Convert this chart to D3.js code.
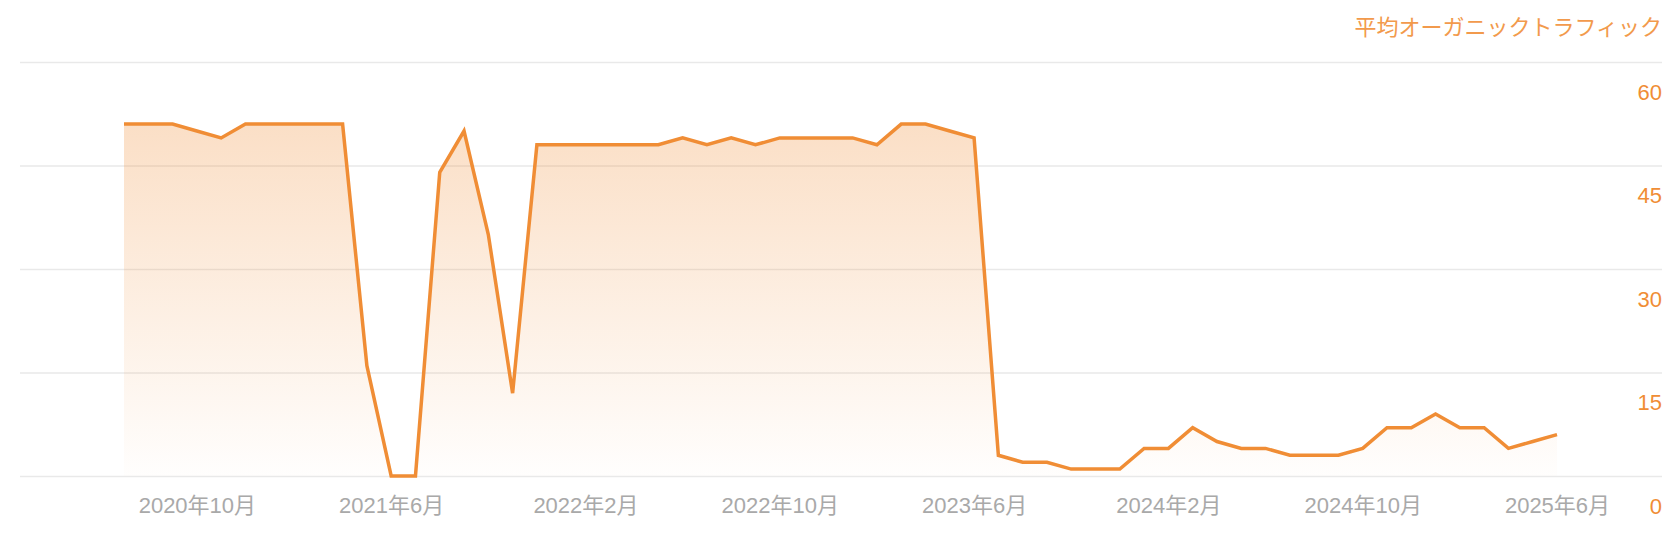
<!DOCTYPE html>
<html><head><meta charset="utf-8">
<script src="https://cdn.jsdelivr.net/npm/d3@7"></script>
<style>
body{margin:0;background:#fff}
svg{display:block}
text{font-family:"Liberation Sans","Noto Sans CJK JP",sans-serif}
</style>
</head><body>
<svg id="c" width="1676" height="538"></svg>
<script>
const months = [
  "2020-07","2020-08","2020-09","2020-10","2020-11","2020-12",
  "2021-01","2021-02","2021-03","2021-04","2021-05","2021-06","2021-07","2021-08","2021-09","2021-10","2021-11","2021-12",
  "2022-01","2022-02","2022-03","2022-04","2022-05","2022-06","2022-07","2022-08","2022-09","2022-10","2022-11","2022-12",
  "2023-01","2023-02","2023-03","2023-04","2023-05","2023-06","2023-07","2023-08","2023-09","2023-10","2023-11","2023-12",
  "2024-01","2024-02","2024-03","2024-04","2024-05","2024-06","2024-07","2024-08","2024-09","2024-10","2024-11","2024-12",
  "2025-01","2025-02","2025-03","2025-04","2025-05","2025-06"
];
const traffic = [
  51,51,51,50,49,51,
  51,51,51,51,16,0,0,44,50,35,12,48,
  48,48,48,48,48,49,48,49,48,49,49,49,
  49,48,51,51,50,49,3,2,2,1,1,1,
  4,4,7,5,4,4,3,3,3,4,7,7,
  9,7,7,4,5,6
];
const tickMonths = ["2020-10","2021-06","2022-02","2022-10","2023-06","2024-02","2024-10","2025-06"];
const tickLabels = ["2020年10月","2021年6月","2022年2月","2022年10月","2023年6月","2024年2月","2024年10月","2025年6月"];
const yTicks = [0,15,30,45,60];
const seriesTitle = "平均オーガニックトラフィック";

const orange = "#F08D35";
const svg = d3.select("#c");
const gridLeft = 20, gridRight = 1662;

const x = d3.scalePoint().domain(months).range([124, 1557]);
const y = d3.scaleLinear().domain([0, 60]).range([476, 62]);

const data = months.map((m, i) => ({m, v: traffic[i]}));

// gridlines
const grid = svg.append("g").attr("transform", `translate(${gridLeft},0)`)
  .call(d3.axisRight(y).tickValues(yTicks).tickSize(gridRight - gridLeft).tickFormat(""));
grid.select(".domain").remove();
grid.selectAll("line").attr("stroke", "#e9e9e9").attr("stroke-width", 1.5);

// gradient
const defs = svg.append("defs");
const grad = defs.append("linearGradient").attr("id", "ag")
  .attr("gradientUnits", "userSpaceOnUse")
  .attr("x1", 0).attr("x2", 0).attr("y1", y(60)).attr("y2", y(0));
grad.append("stop").attr("offset", "0%").attr("stop-color", orange).attr("stop-opacity", 0.33);
grad.append("stop").attr("offset", "100%").attr("stop-color", orange).attr("stop-opacity", 0.01);

svg.append("path").datum(data)
  .attr("fill", "url(#ag)")
  .attr("d", d3.area().x(d => x(d.m)).y0(y(0)).y1(d => y(d.v)));

svg.append("path").datum(data)
  .attr("fill", "none").attr("stroke", orange).attr("stroke-width", 3.5)
  .attr("stroke-linejoin", "miter")
  .attr("d", d3.line().x(d => x(d.m)).y(d => y(d.v)));

// y labels
const ya = svg.append("g").attr("transform", `translate(${gridRight},0)`)
  .call(d3.axisLeft(y).tickValues(yTicks).tickSize(0).tickPadding(0));
ya.select(".domain").remove();
ya.selectAll("text").attr("y", 37).attr("dy", 0)
  .attr("fill", orange).attr("font-size", 22).attr("text-anchor", "end")
  .style("font-family", '"Liberation Sans","Noto Sans CJK JP",sans-serif');

// x labels
const xa = svg.append("g").attr("transform", `translate(0,${y(0)})`)
  .call(d3.axisBottom(x).tickValues(tickMonths).tickSize(0).tickFormat((d, i) => tickLabels[i]));
xa.select(".domain").remove();
xa.selectAll("text").attr("y", 37).attr("dy", 0)
  .attr("fill", "#a9a9a9").attr("font-size", 22)
  .style("font-family", '"Liberation Sans","Noto Sans CJK JP",sans-serif');

// series title
svg.append("text").attr("x", gridRight).attr("y", 35)
  .attr("text-anchor", "end").attr("fill", "#F29A4C").attr("font-size", 22)
  .style("font-family", '"Noto Sans CJK JP",sans-serif')
  .text(seriesTitle);
</script>
</body></html>
